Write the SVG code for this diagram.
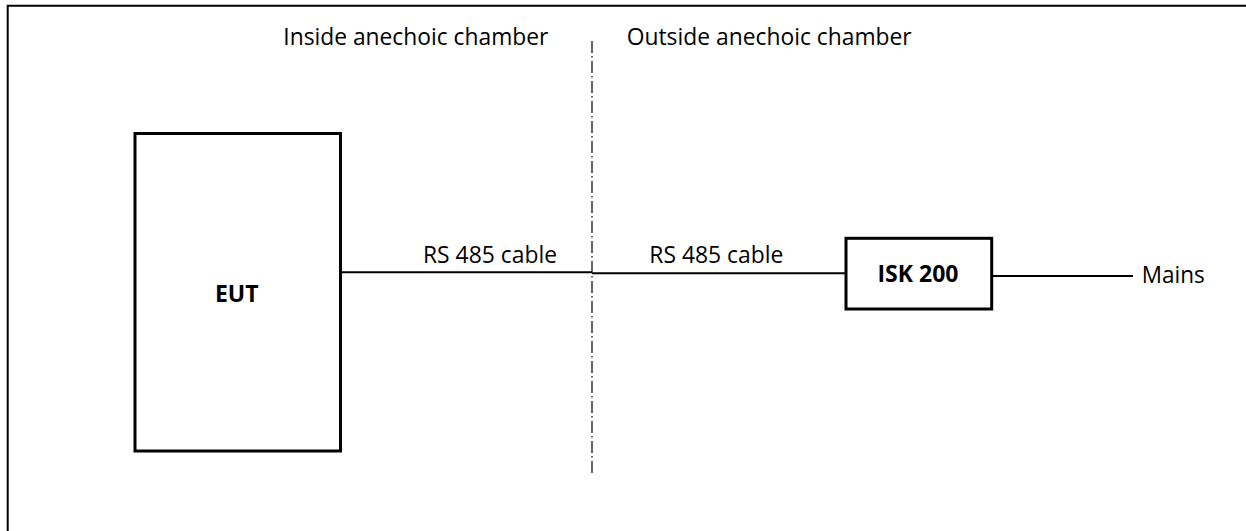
<svg xmlns="http://www.w3.org/2000/svg" width="1246" height="531" viewBox="0 0 1246 531">
  <style>
    .lbl { font-family: "Open Sans", "Noto Sans", sans-serif; font-size: 23px; fill: #000; }
    .bold { font-weight: bold; }
    .box { fill: #fff; stroke: #000; stroke-width: 3; }
    .wire { stroke: #000; stroke-width: 2; fill: none; }
  </style>
  <rect x="0" y="0" width="1246" height="531" fill="#fff"/>
  <path d="M7.7,540 V5.7 H1256" fill="none" stroke="#000" stroke-width="2"/>
  <line x1="592" y1="41" x2="592" y2="475" stroke="#000" stroke-width="1.2" stroke-dasharray="12 3 1.5 3.5"/>
  <text class="lbl" x="283.3" y="45" textLength="265" lengthAdjust="spacingAndGlyphs">Inside anechoic chamber</text>
  <text class="lbl" x="626.7" y="45" textLength="285" lengthAdjust="spacingAndGlyphs">Outside anechoic chamber</text>
  <g id="connectors">
    <line class="wire" x1="340.5" y1="272.3" x2="592" y2="272.3"/>
    <line class="wire" x1="592" y1="273.3" x2="846" y2="273.3"/>
    <line class="wire" x1="992" y1="276" x2="1133" y2="276"/>
    <text class="lbl" x="423" y="263.3" textLength="134" lengthAdjust="spacingAndGlyphs">RS 485 cable</text>
    <text class="lbl" x="649.3" y="263.3" textLength="134" lengthAdjust="spacingAndGlyphs">RS 485 cable</text>
  </g>
  <g id="eut">
    <rect class="box" x="135" y="133.5" width="205.5" height="317.5"/>
    <text class="lbl bold" x="236.7" y="301.7" text-anchor="middle">EUT</text>
  </g>
  <g id="isk200">
    <rect class="box" x="846" y="238.3" width="145.7" height="70.7"/>
    <text class="lbl bold" x="918" y="281.7" text-anchor="middle">ISK 200</text>
  </g>
  <g id="mains">
    <text class="lbl" x="1141.7" y="283" textLength="63" lengthAdjust="spacingAndGlyphs">Mains</text>
  </g>
</svg>
